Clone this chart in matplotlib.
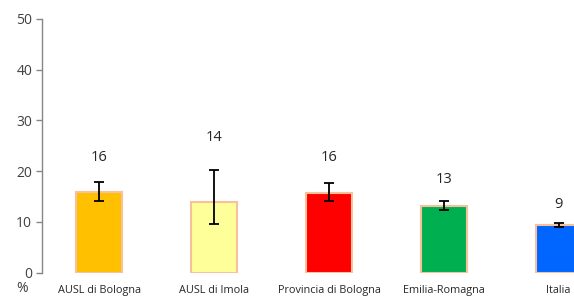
import matplotlib
matplotlib.use("Agg")
import matplotlib.pyplot as plt
import numpy as np

categories = ["AUSL di Bologna", "AUSL di Imola", "Provincia di Bologna", "Emilia-Romagna", "Italia"]
values = [15.9, 14.0, 15.7, 13.2, 9.3]
err_low = [14.1, 9.5, 14.2, 12.3, 9.0]
err_high = [17.8, 20.2, 17.6, 14.1, 9.7]
labels = ["16", "14", "16", "13", "9"]
colors = ["#FFC000", "#FFFF99", "#FF0000", "#00B050", "#0066FF"]
yticks = [0, 10, 20, 30, 40, 50]

plt.rcParams['font.family'] = ['Open Sans', 'DejaVu Sans']

W, H = 574, 296
fig = plt.figure(figsize=(W/100, H/100), dpi=100)
left, right = 42, 616
top, bottom = 18.7, 272.7
ax = fig.add_axes([left/W, (H-bottom)/H, (right-left)/W, (bottom-top)/H])

x = np.arange(len(categories))
vals = np.array(values)
lo = vals - np.array(err_low)
hi = np.array(err_high) - vals
ax.bar(x, vals, width=0.4, color=colors, edgecolor="#F7C29B", linewidth=1.5, zorder=2)
ax.errorbar(x, vals, yerr=[lo, hi], fmt="none", ecolor="black", elinewidth=1.3,
            capsize=3.5, capthick=1.3, zorder=3)

label_offsets = [25, 33, 26, 22, 19]
for xi, yh, lab, off in zip(x, err_high, labels, label_offsets):
    ax.annotate(lab, (xi, yh), xytext=(0, off*0.72), textcoords="offset points",
                ha="center", va="center", fontsize=10.5, color="#262626")

ax.set_xlim(-0.5, len(categories) - 0.5)
ax.set_ylim(0, 50)
ax.set_yticks(yticks)
ax.set_yticklabels([str(t) for t in yticks], fontsize=10, color="#404040")
ax.tick_params(axis="y", length=4, width=1, color="#868686", pad=3)
ax.set_xticks(x)
ax.set_xticklabels(categories, fontsize=7.8, color="#262626")
ax.tick_params(axis="x", length=0, pad=8.5)
for s in ["top", "right", "bottom"]:
    ax.spines[s].set_visible(False)
ax.spines["left"].set_color("#868686")
ax.spines["left"].set_linewidth(1)
fig.text(22/W, 1 - 288/H, "%", ha="center", va="center", fontsize=10, color="#404040")

fig.savefig("out.png", dpi=100)
